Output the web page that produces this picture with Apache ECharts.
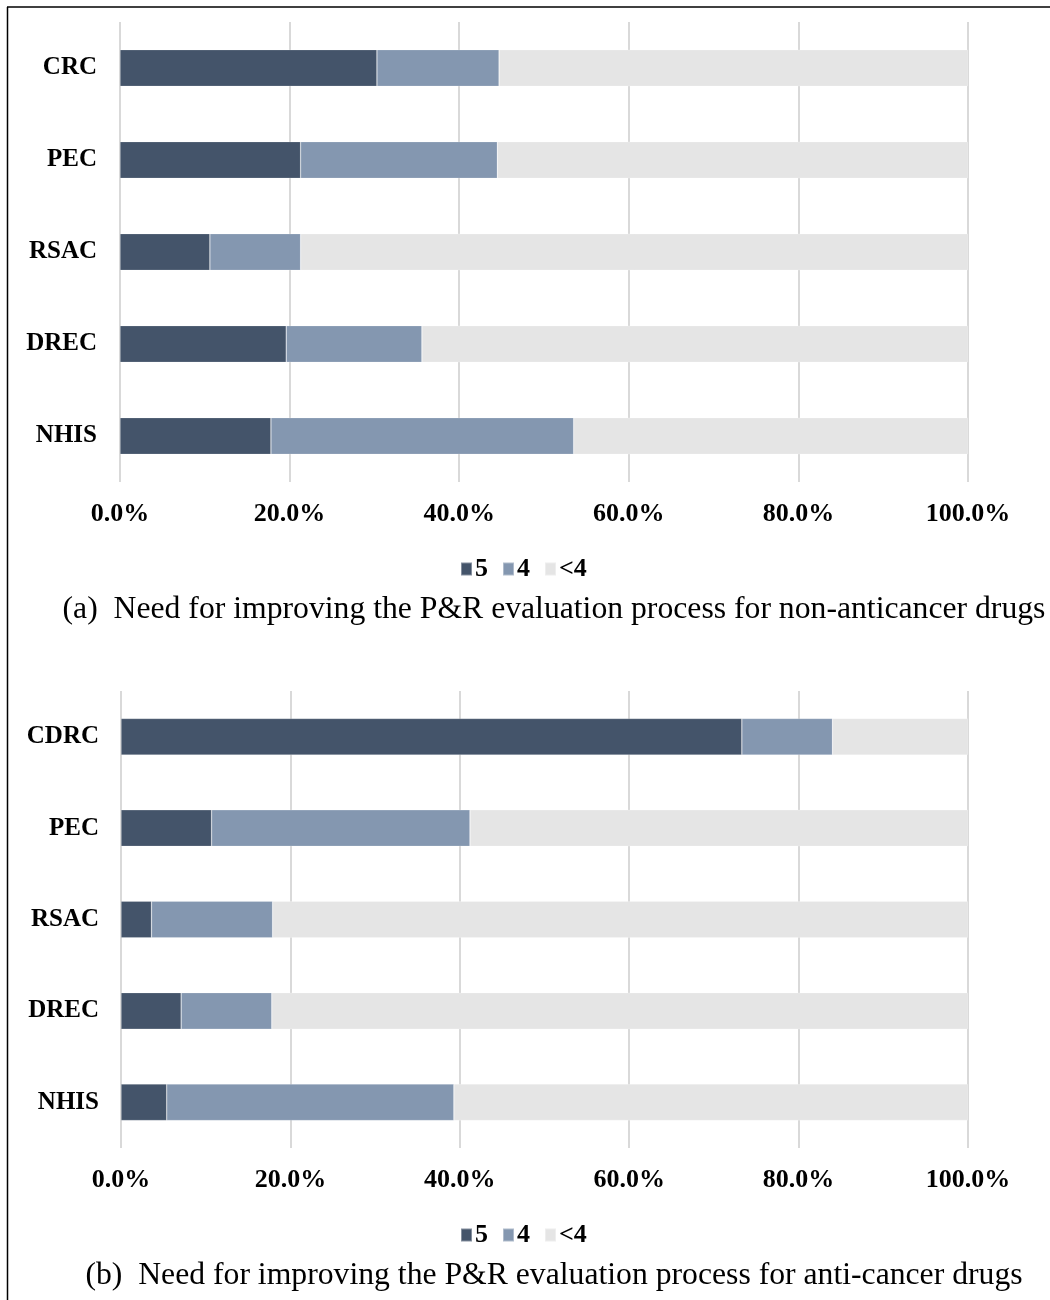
<!DOCTYPE html>
<html>
<head>
<meta charset="utf-8">
<script src="https://cdn.jsdelivr.net/npm/echarts@6/dist/echarts.min.js"></script>
<style>
  html, body { margin: 0; padding: 0; background: #ffffff; }
  #chart { width: 1050px; height: 1300px; }
</style>
</head>
<body>
<div id="chart"></div>
<script>
// Panel (a): non-anticancer drugs, share of responses (%)
const catsA = ['CRC', 'PEC', 'RSAC', 'DREC', 'NHIS'];
const score5A = [30.3, 21.3, 10.6, 19.6, 17.8];
const score4A = [14.4, 23.2, 10.7, 16.0, 35.7];
const below4A = [55.3, 55.5, 78.7, 64.4, 46.5];

// Panel (b): anti-cancer drugs, share of responses (%)
const catsB = ['CDRC', 'PEC', 'RSAC', 'DREC', 'NHIS'];
const score5B = [73.3, 10.7, 3.6, 7.1, 5.4];
const score4B = [10.7, 30.5, 14.3, 10.7, 33.9];
const below4B = [16.0, 58.8, 82.1, 82.2, 60.7];

const seriesNames = ['5', '4', '<4'];
const colors = ['#44546a', '#8497b0', '#e5e5e5'];
const captionA = '(a)  Need for improving the P&R evaluation process for non-anticancer drugs';
const captionB = '(b)  Need for improving the P&R evaluation process for anti-cancer drugs';

const FONT = "'Liberation Serif', 'Times New Roman', serif";

function xAxisFor(gridIndex) {
  return {
    type: 'value', gridIndex: gridIndex, min: 0, max: 100, interval: 20,
    axisLine: { show: false }, axisTick: { show: false },
    splitLine: { show: true, lineStyle: { color: '#d9d9d9', width: 2 } },
    axisLabel: {
      margin: 19, color: '#000', fontFamily: FONT, fontWeight: 'bold', fontSize: 26,
      formatter: v => v.toFixed(1) + '%'
    }
  };
}
function yAxisFor(gridIndex, cats, margin) {
  return {
    type: 'category', gridIndex: gridIndex, data: cats, inverse: true,
    axisLine: { show: false }, axisTick: { show: false },
    axisLabel: {
      margin: margin, color: '#000', fontFamily: FONT, fontWeight: 'bold', fontSize: 25,
      padding: [4, 0, 0, 0]
    }
  };
}
function barSeries(idx, values, stack) {
  return values.map((vals, i) => ({
    name: seriesNames[i], type: 'bar', stack: stack,
    xAxisIndex: idx, yAxisIndex: idx,
    barWidth: '40%', data: vals,
    itemStyle: { color: colors[i], borderColor: 'rgba(255,255,255,0.35)', borderWidth: 0.6 },
    emphasis: { disabled: true }
  }));
}
function legendAt(top) {
  return {
    top: top, left: 455, icon: 'rect', itemWidth: 11, itemHeight: 13, itemGap: 14,
    data: seriesNames, selectedMode: false,
    textStyle: { color: '#000', fontFamily: FONT, fontWeight: 'bold', fontSize: 26, padding: [0, 0, 0, -2] }
  };
}

const chart = echarts.init(document.getElementById('chart'), null, { renderer: 'canvas' });
chart.setOption({
  backgroundColor: '#ffffff',
  animation: false,
  color: colors,
  grid: [
    { left: 120, top: 22, width: 848, height: 460 },
    { left: 121, top: 691, width: 847, height: 457 }
  ],
  xAxis: [xAxisFor(0), xAxisFor(1)],
  yAxis: [yAxisFor(0, catsA, 23), yAxisFor(1, catsB, 22)],
  legend: [legendAt(551), legendAt(1217)],
  series: [
    ...barSeries(0, [score5A, score4A, below4A], 'a'),
    ...barSeries(1, [score5B, score4B, below4B], 'b')
  ],
  graphic: [
    { type: 'line', shape: { x1: 7, y1: 7, x2: 1050, y2: 7 }, style: { stroke: '#000', lineWidth: 1.5 } },
    { type: 'line', shape: { x1: 7.5, y1: 7, x2: 7.5, y2: 1300 }, style: { stroke: '#000', lineWidth: 1.5 } },
    { type: 'text', x: 554, y: 610,
      style: { text: captionA, font: '31.7px ' + FONT, fill: '#000', textAlign: 'center', textVerticalAlign: 'middle' } },
    { type: 'text', x: 554, y: 1276,
      style: { text: captionB, font: '31.7px ' + FONT, fill: '#000', textAlign: 'center', textVerticalAlign: 'middle' } }
  ]
});
</script>
</body>
</html>
